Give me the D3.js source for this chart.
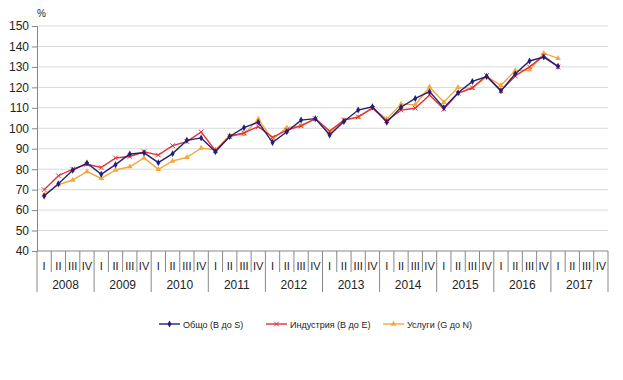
<!DOCTYPE html>
<html><head><meta charset="utf-8">
<script src="https://cdn.jsdelivr.net/npm/d3@7"></script>
<style>body{margin:0;background:#fff}svg{display:block;font-family:"Liberation Sans",Arial,sans-serif}</style>
</head><body><svg id="c" width="623" height="380"></svg>
<script>
const years = ["2008","2009","2010","2011","2012","2013","2014","2015","2016","2017"];
const quarters = ["I","II","III","IV"];
const yTicks = [40,50,60,70,80,90,100,110,120,130,140,150];
const seriesNames = ["Общо (B до S)","Индустрия (B до E)","Услуги (G до N)"];
const obshto = [66.9,72.9,79.5,83,77.5,82.2,87.4,88,83.2,87.6,94.1,95.3,88.5,96,100.3,103,93,98.3,104,104.7,96.7,103.3,108.9,110.5,102.9,110.3,114.6,117.9,110,117.4,122.9,125.3,118.3,126.6,132.9,134.8,130.3];
const industria = [70,76.8,80,82.4,80.8,85.5,86.2,88.5,86.9,91.5,93.5,98.2,89,96,97.8,100.8,95.6,99.1,101.2,104.7,98.6,104,105.6,109.8,103.7,108.9,109.8,116.3,109.4,117.1,119.8,125.8,118.3,125.6,130,135.4,130];
const uslugi = [67.5,72.4,74.7,78.8,75.5,79.6,81.2,85.5,79.9,84,85.8,90.3,89.5,96.5,97,104.5,94.6,100.3,101.2,104.7,97.5,104,105.3,110,104.5,111.8,111.5,120.2,112.7,120,119.5,125.3,121,128.2,128.5,136.7,134.2];

const svg = d3.select("#c");
const L = 37, R = 608, T = 26, B = 251;
const keys = [];
years.forEach(y => quarters.forEach(q => keys.push(y + "-" + q)));
const x = d3.scaleBand().domain(keys).range([L, R]);
const y = d3.scaleLinear().domain([40,150]).range([B, T]);

// gridlines
svg.append("g").selectAll("line").data(yTicks.filter(t => t > 40)).join("line")
  .attr("x1", L).attr("x2", R).attr("y1", d => y(d)).attr("y2", d => y(d))
  .attr("stroke", "#d9d9d9").attr("stroke-width", 1);

// y axis
const ya = svg.append("g").attr("transform", `translate(${L},0)`)
  .call(d3.axisLeft(y).tickValues(yTicks).tickSize(5).tickPadding(3));
ya.select(".domain").attr("stroke", "#888");
ya.selectAll(".tick line").attr("stroke", "#888");
ya.selectAll("text").attr("font-size", 12).attr("fill", "#222").attr("font-family", "Liberation Sans, Arial, sans-serif");
svg.append("text").attr("x", 37).attr("y", 17).attr("font-size", 10).attr("fill", "#222").text("%");

// x axis base
svg.append("line").attr("x1", L).attr("x2", R).attr("y1", B).attr("y2", B).attr("stroke", "#888");
// quarter separators
svg.append("g").selectAll("line").data(keys).join("line")
  .attr("x1", d => x(d)).attr("x2", d => x(d))
  .attr("y1", B).attr("y2", d => d.endsWith("-I") ? 292 : 272)
  .attr("stroke", "#888");
svg.append("line").attr("x1", R).attr("x2", R).attr("y1", B).attr("y2", 292).attr("stroke", "#888");
svg.append("g").selectAll("text").data(keys).join("text")
  .attr("x", d => x(d) + x.bandwidth()/2).attr("y", 270)
  .attr("text-anchor", "middle").attr("font-size", 11).attr("fill", "#222")
  .text(d => d.split("-")[1]);
svg.append("g").selectAll("text").data(years).join("text")
  .attr("x", d => x(d + "-I") + x.bandwidth()*2).attr("y", 289)
  .attr("text-anchor", "middle").attr("font-size", 12).attr("fill", "#222")
  .text(d => d);

const cx = i => x(keys[i]) + x.bandwidth()/2;
const colors = ["#22207a", "#e0323a", "#f4a83a"];
const data = [obshto, industria, uslugi];

function marker(g, type, color, px, py) {
  if (type === 0) {
    g.append("path").attr("d", d3.symbol(d3.symbolDiamond, 14)()).attr("transform", `translate(${px},${py})`).attr("fill", color);
  } else if (type === 1) {
    g.append("path").attr("d", d3.symbol(d3.symbolTimes, 16)()).attr("transform", `translate(${px},${py})`).attr("fill", "none").attr("stroke", color).attr("stroke-width", 1);
  } else {
    g.append("path").attr("d", d3.symbol(d3.symbolTriangle, 14)()).attr("transform", `translate(${px},${py})`).attr("fill", color);
  }
}

const line = d3.line().x((d, i) => cx(i)).y(d => y(d));
[2,1,0].forEach(s => {
  const g = svg.append("g");
  g.append("path").datum(data[s]).attr("d", line).attr("fill", "none").attr("stroke", colors[s]).attr("stroke-width", 1.4);
  data[s].forEach((v, i) => marker(g, s, colors[s], cx(i), y(v)));
});

// legend
const legX = [159, 266, 383];
seriesNames.forEach((n, s) => {
  const g = svg.append("g");
  g.append("line").attr("x1", legX[s]).attr("x2", legX[s] + 21).attr("y1", 324).attr("y2", 324).attr("stroke", colors[s]).attr("stroke-width", 1.4);
  marker(g, s, colors[s], legX[s] + 10.5, 324);
  g.append("text").attr("x", legX[s] + 24).attr("y", 327.5).attr("font-size", 9).attr("fill", "#222").text(n);
});
</script></body></html>
